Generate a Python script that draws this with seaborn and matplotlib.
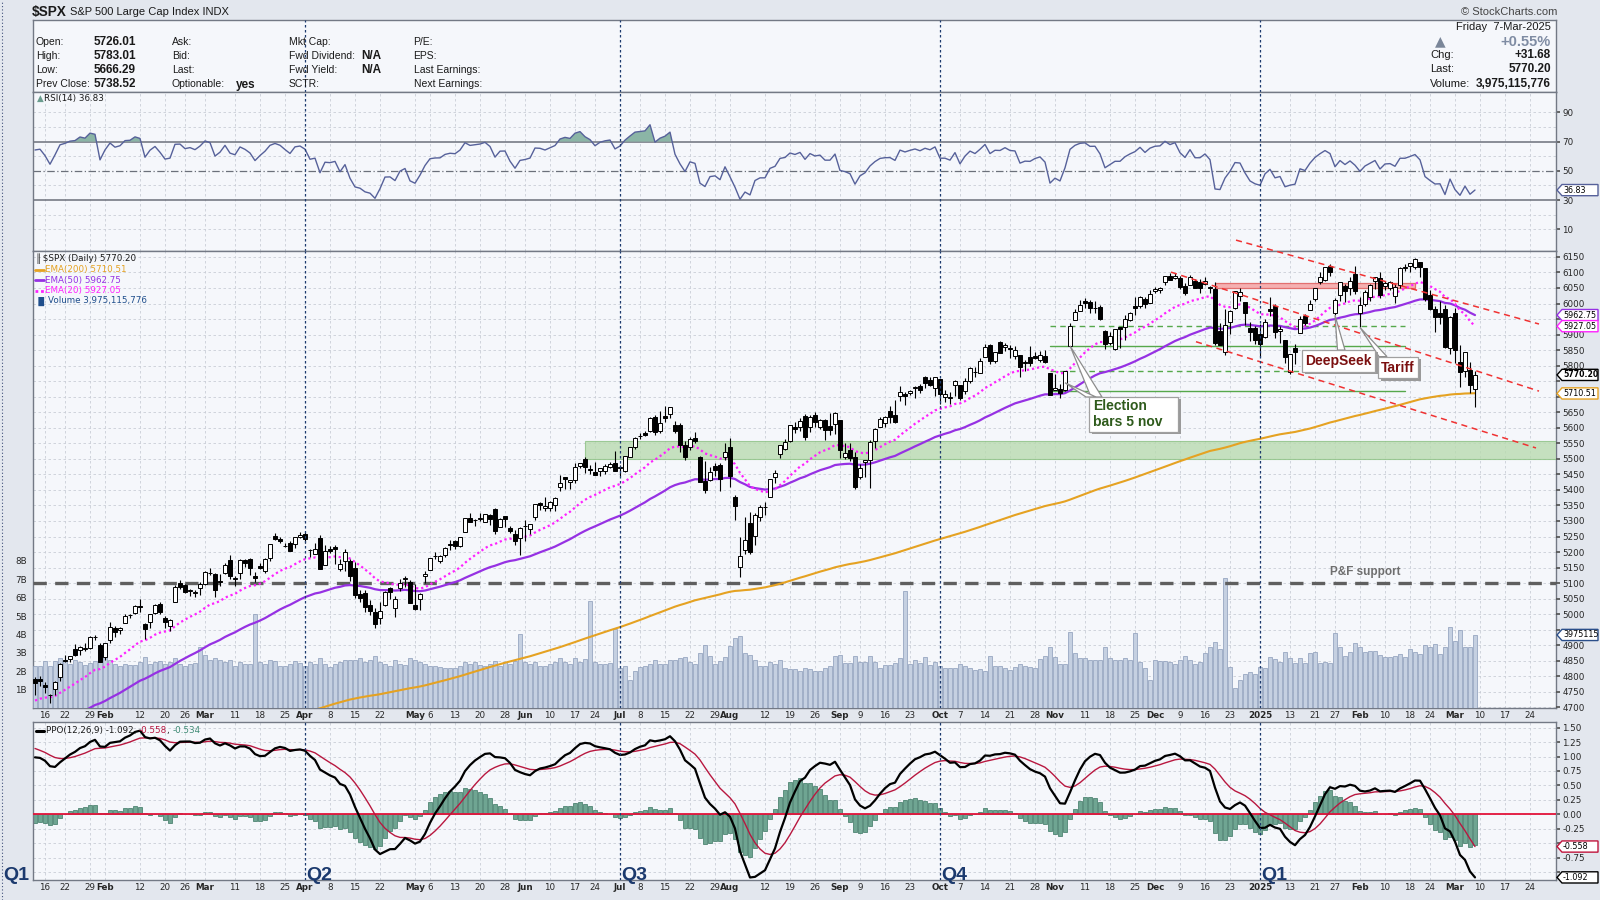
import numpy as np
import pandas as pd
import matplotlib
matplotlib.use("Agg")
import matplotlib.pyplot as plt
import seaborn as sns
from matplotlib.patches import Rectangle, Polygon
from matplotlib.lines import Line2D
from matplotlib.transforms import blended_transform_factory

# ---------------- data: $SPX daily, 11-Jan-2024 .. 7-Mar-2025 ----------------
# closes before the first visible bar (15-Nov-2023 .. 10-Jan-2024), used only to warm up the indicators
warmup_close = [4502, 4508, 4514, 4547, 4538, 4556, 4559, 4550, 4555, 4551, 4568,
                4595, 4569, 4567, 4549, 4586, 4604, 4622, 4644, 4707, 4720, 4719, 4740, 4768, 4698,
                4746, 4755, 4775, 4781, 4783, 4770,
                4743, 4705, 4689, 4697, 4764, 4757, 4783]

open_ = [
    4792, 4791, 4772, 4739, 4760, 4797, 4854, 4856, 4888, 4886, 4888, 4892, 4926, 4900,  # Jan 24
    4862, 4916, 4957, 4950, 4973, 4997, 5004, 5026, 4968, 4976, 5003, 5032, 4989, 4963, 5039, 5100, 5094, 5075, 5068, 5085,  # Feb
    5098, 5131, 5130, 5108, 5133, 5173, 5112, 5134, 5174, 5176, 5124, 5154, 5139, 5182, 5253, 5243, 5220, 5228, 5226, 5249,  # Mar
    5258, 5205, 5194, 5244, 5158, 5211, 5217, 5145, 5172, 5171, 5149, 5064, 5068, 5031, 5006, 4988, 5029, 5084, 5020, 5084, 5114, 5103,  # Apr
    5029, 5050, 5123, 5142, 5188, 5172, 5190, 5226, 5234, 5221, 5264, 5310, 5303, 5305, 5298, 5320, 5340, 5281, 5315, 5278, 5259, 5244,  # May
    5283, 5275, 5314, 5357, 5343, 5341, 5353, 5409, 5441, 5424, 5432, 5477, 5499, 5466, 5459, 5461, 5460, 5473, 5488,  # Jun
    5471, 5461, 5507, 5537, 5572, 5584, 5591, 5635, 5590, 5638, 5644, 5610, 5608, 5543, 5537, 5566, 5505, 5429, 5433, 5477, 5479, 5505,  # Jul
    5537, 5377, 5151, 5206, 5293, 5253, 5312, 5345, 5376, 5443, 5514, 5531, 5557, 5602, 5603, 5637, 5602, 5640, 5603, 5624, 5607, 5612,  # Aug
    5624, 5507, 5530, 5507, 5443, 5491, 5496, 5557, 5603, 5615, 5655, 5641, 5703, 5709, 5711, 5728, 5733, 5762, 5755, 5727,  # Sep
    5757, 5698, 5696, 5738, 5737, 5719, 5752, 5778, 5775, 5829, 5866, 5816, 5875, 5859, 5858, 5832, 5835, 5813, 5827, 5830, 5819, 5832, 5775,  # Oct
    5723, 5725, 5722, 5864, 5947, 5977, 6008, 6004, 5986, 5990, 5912, 5874, 5852, 5924, 5924, 5948, 5993, 5992, 6014, 6003,  # Nov
    6040, 6042, 6069, 6089, 6081, 6083, 6057, 6060, 6074, 6068, 6063, 6052, 6047, 5913, 5843, 5940, 5985, 6025, 6006, 5920, 5920,  # Dec
    5903, 5892, 5982, 5993, 5911, 5881, 5778, 5858, 5905, 5961, 5978, 6014, 6069, 6077, 6121, 5969, 6027, 6057, 6050, 6096,  # Jan 25
    5970, 5998, 6021, 6072, 6083, 6057, 6050, 6025, 6061, 6115, 6122, 6118, 6134, 6114, 6027, 5982, 5971, 5981, 5857,  # Feb
    5969, 5812, 5782, 5785, 5726.01,  # Mar
]
high = [
    4798, 4802, 4782, 4744, 4785, 4842, 4868, 4866, 4903, 4898, 4906, 4929, 4932, 4907,
    4906, 4975, 4963, 4958, 4999, 5000, 5031, 5049, 4971, 5002, 5032, 5039, 4993, 4983, 5094, 5111, 5097, 5081, 5078, 5104,
    5140, 5149, 5132, 5128, 5165, 5190, 5124, 5179, 5179, 5180, 5136, 5165, 5180, 5225, 5261, 5247, 5229, 5235, 5249, 5264,
    5264, 5209, 5228, 5256, 5222, 5219, 5224, 5178, 5211, 5176, 5168, 5079, 5077, 5046, 5020, 5038, 5076, 5089, 5057, 5114, 5124, 5110,
    5096, 5069, 5139, 5181, 5201, 5191, 5215, 5240, 5238, 5250, 5311, 5325, 5305, 5325, 5324, 5323, 5342, 5311, 5315, 5283, 5270, 5280,
    5302, 5291, 5354, 5362, 5376, 5365, 5376, 5447, 5442, 5432, 5488, 5486, 5506, 5479, 5490, 5472, 5483, 5490, 5524,
    5479, 5509, 5539, 5570, 5583, 5590, 5635, 5642, 5655, 5670, 5667, 5622, 5614, 5557, 5570, 5586, 5508, 5492, 5474, 5487, 5486, 5551,
    5566, 5383, 5250, 5312, 5330, 5327, 5351, 5361, 5436, 5463, 5545, 5564, 5608, 5620, 5633, 5644, 5642, 5651, 5628, 5627, 5646, 5651,
    5626, 5552, 5552, 5523, 5484, 5497, 5560, 5600, 5636, 5637, 5670, 5690, 5733, 5715, 5721, 5735, 5741, 5767, 5765, 5763,
    5757, 5720, 5715, 5753, 5739, 5759, 5796, 5796, 5823, 5871, 5870, 5844, 5878, 5872, 5866, 5863, 5835, 5817, 5862, 5843, 5848, 5851, 5775,
    5772, 5741, 5783, 5936, 5983, 6012, 6018, 6010, 6009, 5994, 5916, 5909, 5918, 5925, 5962, 5973, 6020, 6025, 6021, 6045,
    6053, 6052, 6088, 6099, 6099, 6088, 6065, 6092, 6080, 6078, 6085, 6057, 6070, 5936, 5982, 5978, 6040, 6049, 6006, 5940, 5929,
    5935, 5949, 6022, 6000, 5927, 5882, 5838, 5871, 5960, 5965, 6012, 6051, 6100, 6119, 6128, 6018, 6070, 6063, 6086, 6120,
    6022, 6042, 6062, 6084, 6101, 6073, 6074, 6063, 6116, 6128, 6129, 6147, 6134, 6115, 6044, 5992, 6009, 5994, 5959,
    5987, 5865, 5843, 5812, 5783.01,
]
low = [
    4739, 4768, 4747, 4714, 4740, 4785, 4845, 4845, 4866, 4870, 4881, 4887, 4917, 4845,
    4853, 4907, 4927, 4936, 4970, 4988, 4999, 5007, 4920, 4956, 5001, 4999, 4954, 4946, 5039, 5081, 5068, 5058, 5056, 5061,
    5094, 5127, 5056, 5091, 5130, 5114, 5091, 5114, 5151, 5125, 5104, 5145, 5131, 5172, 5240, 5229, 5216, 5203, 5214, 5246,
    5229, 5184, 5194, 5146, 5157, 5197, 5160, 5138, 5139, 5107, 5052, 5039, 5007, 4998, 4954, 4969, 5027, 5048, 4990, 5073, 5088, 5035,
    5014, 5012, 5101, 5142, 5178, 5166, 5183, 5206, 5211, 5217, 5263, 5297, 5284, 5299, 5298, 5286, 5257, 5279, 5280, 5262, 5222, 5191,
    5234, 5257, 5304, 5336, 5331, 5331, 5331, 5395, 5403, 5403, 5421, 5471, 5455, 5451, 5448, 5446, 5452, 5471, 5460,
    5446, 5458, 5507, 5531, 5563, 5574, 5587, 5576, 5583, 5619, 5632, 5584, 5522, 5497, 5528, 5550, 5426, 5390, 5430, 5445, 5398, 5497,
    5410, 5302, 5120, 5193, 5195, 5224, 5301, 5319, 5376, 5421, 5502, 5530, 5554, 5584, 5591, 5560, 5585, 5602, 5597, 5560, 5576, 5581,
    5504, 5501, 5493, 5402, 5434, 5441, 5407, 5536, 5601, 5602, 5614, 5615, 5687, 5674, 5704, 5697, 5712, 5729, 5733, 5703,
    5676, 5683, 5675, 5703, 5691, 5709, 5745, 5763, 5776, 5829, 5804, 5810, 5840, 5846, 5824, 5822, 5762, 5784, 5799, 5822, 5812, 5810, 5706,
    5723, 5697, 5717, 5864, 5948, 5976, 5985, 5970, 5970, 5946, 5853, 5865, 5850, 5858, 5884, 5944, 5964, 5986, 5984, 6003,
    6033, 6034, 6058, 6075, 6079, 6048, 6026, 6060, 6051, 6035, 6060, 6035, 5867, 5866, 5833, 5902, 5983, 6007, 5932, 5879, 5869,
    5829, 5889, 5960, 5890, 5874, 5809, 5774, 5805, 5905, 5931, 5978, 6007, 6063, 6074, 6088, 5962, 6009, 6006, 6027, 6031,
    5923, 5991, 6007, 6046, 6018, 6044, 6044, 6003, 6051, 6104, 6100, 6111, 6084, 6008, 5978, 5908, 5933, 5857, 5837,
    5810, 5732, 5763, 5711, 5666.29,
]
close = [
    4780, 4784, 4766, 4739, 4781, 4840, 4850, 4865, 4869, 4894, 4891, 4928, 4925, 4846,
    4906, 4959, 4943, 4954, 4995, 4998, 5027, 5022, 4953, 5001, 5030, 5006, 4976, 4982, 5087, 5089, 5070, 5078, 5070, 5096,
    5137, 5131, 5079, 5105, 5157, 5124, 5117, 5175, 5165, 5150, 5117, 5149, 5179, 5225, 5241, 5234, 5218, 5203, 5248, 5254,
    5243, 5205, 5211, 5147, 5204, 5202, 5209, 5161, 5199, 5123, 5061, 5051, 5022, 5011, 4967, 5010, 5071, 5072, 5048, 5100, 5116, 5036,
    5018, 5064, 5128, 5181, 5187, 5188, 5214, 5223, 5221, 5247, 5308, 5297, 5303, 5308, 5321, 5307, 5268, 5305, 5306, 5267, 5236, 5278,
    5283, 5291, 5354, 5353, 5347, 5361, 5375, 5421, 5434, 5431, 5473, 5487, 5473, 5465, 5448, 5469, 5478, 5483, 5460,
    5475, 5509, 5537, 5567, 5572, 5577, 5633, 5585, 5615, 5631, 5667, 5589, 5545, 5505, 5564, 5556, 5427, 5399, 5459, 5464, 5436, 5522,
    5446, 5347, 5186, 5240, 5199, 5319, 5344, 5344, 5434, 5455, 5543, 5554, 5608, 5597, 5621, 5571, 5634, 5617, 5626, 5592, 5592, 5648,
    5529, 5520, 5503, 5408, 5471, 5496, 5555, 5596, 5627, 5634, 5635, 5618, 5714, 5703, 5719, 5732, 5723, 5745, 5738, 5762,
    5709, 5709, 5700, 5751, 5696, 5751, 5792, 5780, 5815, 5859, 5815, 5843, 5842, 5865, 5853, 5851, 5797, 5809, 5808, 5824, 5833, 5813, 5705,
    5729, 5712, 5782, 5929, 5973, 5996, 6001, 5984, 5985, 5949, 5871, 5894, 5917, 5917, 5949, 5970, 5987, 6021, 5999, 6032,
    6047, 6050, 6087, 6075, 6090, 6053, 6034, 6085, 6051, 6051, 6074, 6051, 5872, 5867, 5931, 5975, 6040, 6037, 5971, 5907, 5882,
    5869, 5942, 5975, 5909, 5918, 5827, 5837, 5843, 5950, 5937, 5997, 6049, 6086, 6119, 6101, 6012, 6068, 6039, 6071, 6041,
    5995, 6038, 6061, 6084, 6026, 6066, 6069, 6052, 6115, 6115, 6129, 6144, 6117, 6013, 5983, 5955, 5956, 5861, 5955,
    5849, 5778, 5843, 5738.52, 5770.20,
]
# volume in billions of shares
volume_b = [
    2.30, 2.26, 2.58, 2.30, 2.58, 2.70, 2.58, 2.40, 2.62, 2.50, 2.35, 2.45, 2.55, 2.80,
    2.75, 2.60, 2.42, 2.30, 2.40, 2.32, 2.35, 2.50, 2.80, 2.42, 2.50, 2.55, 2.40, 2.50, 2.70, 2.42, 2.30, 2.38, 2.45, 3.30,
    2.90, 2.60, 2.70, 2.62, 2.50, 2.62, 2.30, 2.50, 2.40, 2.42, 5.10, 2.50, 2.40, 2.60, 2.55, 2.30, 2.30, 2.40, 2.55, 2.45,
    2.30, 2.50, 2.40, 2.70, 2.40, 2.25, 2.40, 2.50, 2.60, 2.60, 2.62, 2.70, 2.50, 2.60, 2.85, 2.50, 2.40, 2.30, 2.60, 2.40, 2.35, 2.70,
    2.60, 2.50, 2.40, 2.30, 2.30, 2.25, 2.20, 2.20, 2.20, 2.30, 2.50, 2.40, 2.50, 2.35, 2.30, 2.40, 2.55, 2.30, 2.50, 2.40, 2.55, 4.00,
    2.50, 2.40, 2.50, 2.30, 2.30, 2.40, 2.50, 2.70, 2.50, 2.40, 2.70, 2.50, 2.65, 5.80, 2.50, 2.40, 2.40, 2.45, 4.30,
    2.20, 2.30, 1.50, 2.00, 2.25, 2.30, 2.40, 2.60, 2.40, 2.40, 2.60, 2.60, 2.70, 2.80, 2.50, 2.40, 2.97, 3.45, 2.82, 2.40, 2.55, 2.75,
    3.40, 3.80, 3.90, 3.00, 2.90, 2.60, 2.30, 2.30, 2.50, 2.40, 2.60, 2.20, 2.10, 2.10, 2.00, 2.20, 2.10, 2.00, 2.00, 2.20, 2.30, 2.85,
    2.90, 2.45, 2.45, 2.85, 2.50, 2.50, 2.85, 2.50, 2.20, 2.35, 2.35, 2.45, 2.70, 6.35, 2.40, 2.60, 2.45, 2.75, 2.35, 2.50,
    2.30, 2.20, 2.20, 2.20, 2.38, 2.26, 2.17, 2.08, 2.11, 2.04, 2.84, 2.29, 2.31, 2.20, 2.08, 2.22, 2.38, 2.29, 2.22, 2.17, 2.66, 2.84, 3.31,
    2.77, 2.40, 2.40, 4.13, 3.00, 2.70, 2.70, 2.60, 2.60, 2.60, 3.30, 2.70, 2.60, 2.60, 2.70, 2.60, 4.10, 2.50, 2.20, 1.50,
    2.60, 2.55, 2.55, 2.50, 2.40, 2.60, 2.85, 2.60, 2.40, 2.50, 3.00, 3.30, 3.60, 3.20, 7.10, 2.25, 1.10, 1.50, 1.85, 1.95, 1.85,
    2.22, 2.17, 2.77, 2.66, 2.53, 3.04, 2.71, 2.44, 2.71, 2.44, 2.98, 3.04, 2.44, 2.49, 2.44, 4.08, 3.31, 2.84, 3.04, 3.53,
    3.31, 3.06, 3.11, 3.11, 2.88, 2.77, 2.80, 2.84, 2.93, 2.77, 3.21, 3.06, 2.95, 3.42, 3.31, 3.50, 2.93, 3.31, 4.41,
    3.62, 4.26, 3.31, 3.31, 3.975,
]

holidays = ['2024-01-15', '2024-02-19', '2024-03-29', '2024-05-27', '2024-06-19', '2024-07-04',
            '2024-09-02', '2024-11-28', '2024-12-25', '2025-01-01', '2025-01-09', '2025-01-20',
            '2025-02-17']
first_day, axis_end_day = '2024-01-11', '2025-04-04'

# indicator state on 14-Nov-2023 (day before the warm-up closes)
ema_seed = {20: 4380, 50: 4340, 200: 4295, 12: 4410, 26: 4350}
ppo_signal_seed = 0.4

# annotation levels drawn on the chart
pf_support = 5100
support_zone = (5500, 5558, '2024-06-20')
resistance_zone = (6050, 6066, '2024-12-18', '2025-02-19')
election_levels = [(5929, 'dashed'), (5864, 'solid'), (5783, 'dashed'), (5717, 'solid')]
election_span = ('2024-10-31', '2025-02-14')
trend_lines = [((240.2, 6204), (300.8, 5934)),
               ((227.2, 6101), (300.8, 5718)),
               ((232.2, 5877), (300.2, 5535))]
# last values shown in the tags / legends
last_tags = {'ema50': 5962.75, 'ema20': 5927.05, 'close': 5770.20, 'ema200': 5710.51,
             'volume': 3.975, 'rsi': 36.83, 'ppo': -1.092, 'signal': -0.558}

# ---------------- derived series ----------------
n = len(close)
if not (len(open_) == len(high) == len(low) == len(volume_b) == n):
    raise ValueError(f"length mismatch {len(open_)} {len(high)} {len(low)} {n} {len(volume_b)}")

days = pd.bdate_range(first_day, axis_end_day)
days = days[~days.isin(pd.to_datetime(holidays))]
pos = {d: i for i, d in enumerate(days)}
idx = np.arange(n)
nw = len(warmup_close)
all_close = pd.Series(warmup_close + close, dtype=float)


def ema(span):
    s = pd.concat([pd.Series([float(ema_seed[span])]), all_close], ignore_index=True)
    return s.ewm(span=span, adjust=False).mean().iloc[1:].to_numpy()


ema20, ema50, ema200 = ema(20)[nw:], ema(50)[nw:], ema(200)[nw:]
e12, e26 = ema(12), ema(26)
ppo_all = (e12 - e26) / e26 * 100
sig_all = pd.concat([pd.Series([ppo_signal_seed]), pd.Series(ppo_all)], ignore_index=True) \
    .ewm(span=9, adjust=False).mean().iloc[1:].to_numpy()
ppo, ppo_sig = ppo_all[nw:], sig_all[nw:]
ppo_hist = ppo - ppo_sig

delta = all_close.diff().fillna(0)
avg_gain = delta.clip(lower=0).ewm(alpha=1 / 14, adjust=False).mean()
avg_loss = (-delta.clip(upper=0)).ewm(alpha=1 / 14, adjust=False).mean()
rsi = (100 - 100 / (1 + avg_gain / avg_loss)).to_numpy()[nw:]

# date labels: month starts, plus week starts not crowding a month label
month_pos = [i for i in range(1, len(days)) if days[i].month != days[i - 1].month]
marks = {}
for i in month_pos:
    d = days[i]
    marks[i] = (str(d.year) if d.month == 1 else d.strftime('%b'), True)
for i in range(1, len(days)):
    new_week = days[i].isocalendar()[1] != days[i - 1].isocalendar()[1]
    if new_week and i not in marks and all(abs(i - m) > 2 for m in month_pos):
        marks[i] = (str(days[i].day), False)
tick_pos = sorted(k for k in marks if k <= 301)
tick_lab = [marks[k][0] for k in tick_pos]
tick_bold = [marks[k][1] for k in tick_pos]
quarters = [pos[pd.Timestamp(d)] for d in ['2024-04-01', '2024-07-01', '2024-10-01', '2025-01-02']]

# ---------------- figure ----------------
W, H = 1600, 900
BG, PANEL, EDGE, GRID = '#e3e7ee', '#f5f7fb', '#737985', '#c9ced7'
C200, C50, C20 = '#e5a222', '#9631e3', '#ff22ff'
QCOL = '#1c3a6e'
XL = (-0.4, 304.2)

sns.set_theme(style='white')
plt.rcParams['font.family'] = ['DejaVu Sans']
fig = plt.figure(figsize=(16, 9), dpi=100)
fig.patch.set_facecolor(BG)


def fx(x):
    return x / W


def fy(y):
    return 1 - y / H


def rect(top, bottom, left=33, right=1556):
    return [left / W, 1 - bottom / H, (right - left) / W, (bottom - top) / H]


def frame(ax):
    ax.set_facecolor(PANEL)
    for s in ax.spines.values():
        s.set_color(EDGE)
        s.set_linewidth(1.0)
    ax.set_xlim(*XL)


ax_hdr = fig.add_axes(rect(20, 92))
ax_rsi = fig.add_axes(rect(92, 251))
ax_bg = fig.add_axes(rect(251, 708))
ax_vol = fig.add_axes(rect(251, 708))
ax_px = fig.add_axes(rect(251, 708))
ax_ppo = fig.add_axes(rect(722, 880))
ax_bg.set_zorder(0)
ax_vol.set_zorder(1)
ax_px.set_zorder(2)

for ax in (ax_hdr, ax_rsi, ax_bg, ax_ppo):
    frame(ax)
for ax in (ax_vol, ax_px):
    ax.patch.set_visible(False)
    for s in ax.spines.values():
        s.set_visible(False)
    ax.set_xlim(*XL)

ax_hdr.set_xticks([])
ax_hdr.set_yticks([])

gridkw = dict(color=GRID, linestyle=(0, (3, 3)), linewidth=0.6)
TICKFS = 6.3

# ---- RSI panel ----
ax_rsi.set_ylim(-4.8, 103.9)
ax_rsi.set_xticks(tick_pos)
ax_rsi.tick_params(axis='x', length=0, labelbottom=False)
ax_rsi.grid(axis='x', **gridkw)
for lv in (10, 20, 40, 60, 80, 90):
    ax_rsi.axhline(lv, zorder=1, **gridkw)
ax_rsi.axhline(70, color='#6b707a', lw=1.1, zorder=2)
ax_rsi.axhline(30, color='#6b707a', lw=1.1, zorder=2)
ax_rsi.axhline(50, color='#6b707a', lw=0.9, ls=(0, (6, 2, 1, 2)), zorder=2)
ax_rsi.fill_between(idx, rsi, 70, where=rsi > 70, interpolate=True, color='#8bb5a6', lw=0, zorder=3)
ax_rsi.fill_between(idx, rsi, 30, where=rsi < 30, interpolate=True, color='#8bb5a6', lw=0, zorder=3)
sns.lineplot(x=idx, y=rsi, ax=ax_rsi, color='#56619a', linewidth=1.0, zorder=4, legend=False)
ax_rsi.yaxis.tick_right()
ax_rsi.set_yticks([10, 30, 50, 70, 90])
ax_rsi.set_yticklabels(['10', '30', '50', '70', '90'], fontsize=TICKFS)
ax_rsi.tick_params(axis='y', length=3, pad=1.5, color='#555')
ax_rsi.set_ylabel('')

# ---- main panel ----
PY = (4698, 6169)
price_ticks = np.arange(4700, 6151, 50)
covered = {4950, 5700, 5750, 5950}          # right-axis labels hidden under the value tags
ax_bg.set_ylim(*PY)
ax_bg.set_xticks(tick_pos)
ax_bg.set_yticks(price_ticks)
ax_bg.tick_params(length=0, labelbottom=False, labelleft=False)
ax_bg.grid(True, **gridkw)

ax_vol.set_ylim(0, 24.87)
ax_vol.bar(idx, volume_b, width=0.72, color='#c5d0e1', edgecolor='#8a9ab8', linewidth=0.5)
ax_vol.set_xticks([])
ax_vol.set_yticks(range(1, 9))
ax_vol.set_yticklabels([f'{v}B' for v in range(1, 9)], fontsize=TICKFS)
ax_vol.tick_params(axis='y', length=3, pad=1.5, color='#555')

ax_px.set_ylim(*PY)
o, c = np.array(open_, float), np.array(close, float)
up = c >= o
body = np.maximum(np.abs(c - o), 1.5)

# support / resistance zones and levels
s_lo, s_hi, s_start = support_zone
s0 = pos[pd.Timestamp(s_start)]
ax_px.add_patch(Rectangle((s0, s_lo), XL[1] - s0, s_hi - s_lo,
                          facecolor='#b9dbb0', edgecolor='#8cc183', lw=0.8, alpha=0.8, zorder=1))
r_lo, r_hi, r_a, r_b = resistance_zone
r0, r1 = pos[pd.Timestamp(r_a)], pos[pd.Timestamp(r_b)]
ax_px.add_patch(Rectangle((r0, r_lo), r1 - r0, r_hi - r_lo,
                          facecolor='#f6a9a9', edgecolor='#e06565', lw=0.9, alpha=0.9, zorder=2))
ax_px.axhline(pf_support, color='#5f5f5f', lw=2.4, ls=(0, (4, 2.5)), zorder=3)
ax_px.text(266, pf_support + 35, 'P&F support', ha='center', va='center', fontsize=8.5, fontweight='bold',
           color='#6f6f6f', family=['Liberation Sans', 'DejaVu Sans'], zorder=3)
e_a, e_b = pos[pd.Timestamp(election_span[0])], pos[pd.Timestamp(election_span[1])]
for lv, kind in election_levels:
    ax_px.plot([e_a, e_b], [lv, lv], color='#56a84b', lw=1.0,
               ls=(0, (4, 3)) if kind == 'dashed' else '-', zorder=3)

sns.lineplot(x=idx, y=ema200, ax=ax_px, color=C200, linewidth=1.5, zorder=4, legend=False)
sns.lineplot(x=idx, y=ema50, ax=ax_px, color=C50, linewidth=1.6, zorder=4, legend=False)
sns.lineplot(x=idx, y=ema20, ax=ax_px, color=C20, linewidth=1.6, linestyle=(0, (1, 1.3)), zorder=4, legend=False)

ax_px.vlines(idx, low, high, color='black', lw=0.8, zorder=5)
ax_px.bar(idx[up], body[up], bottom=o[up], width=0.7, color='white', edgecolor='black', lw=0.7, zorder=6)
ax_px.bar(idx[~up], body[~up], bottom=c[~up], width=0.7, color='black', edgecolor='black', lw=0.7, zorder=6)

for (x0, y0), (x1, y1) in trend_lines:
    ax_px.plot([x0, x1], [y0, y1], color='#f03232', lw=1.1, ls=(0, (4, 3)), zorder=7, clip_on=False)

ax_px.set_xticks(tick_pos)
ax_px.set_xticklabels(tick_lab, fontsize=TICKFS)
for lbl, b in zip(ax_px.get_xticklabels(), tick_bold):
    if b:
        lbl.set_fontweight('bold')
ax_px.tick_params(axis='x', length=0, pad=2.5)
ax_px.yaxis.tick_right()
ax_px.set_yticks(price_ticks)
ax_px.set_yticklabels(['' if v in covered else str(v) for v in price_ticks], fontsize=TICKFS)
ax_px.tick_params(axis='y', length=3, pad=1.5, color='#555')
ax_px.set_ylabel('')


# callout boxes
def callout(ax, box, text, color, apexes, size, ha='center'):
    (x0, y0, x1, y1) = box
    for (ax_x, ax_y), (b0, b1) in apexes:
        ax.add_patch(Polygon([(ax_x, ax_y), (b0, y1), (b1, y1)], closed=True, facecolor='white',
                             edgecolor='#8c8c8c', lw=0.9, zorder=8))
    ax.add_patch(Rectangle((x0 + 0.5, y0 - 7), x1 - x0, y1 - y0, facecolor='#9a9a9a', edgecolor='none', zorder=8.5))
    ax.add_patch(Rectangle((x0, y0), x1 - x0, y1 - y0, facecolor='white', edgecolor='#a0a0a0', lw=0.9, zorder=9))
    tx = (x0 + x1) / 2 if ha == 'center' else x0 + 0.8
    ax.text(tx, (y0 + y1) / 2, text, ha=ha, va='center', fontsize=size, fontweight='bold',
            color=color, family=['Liberation Sans', 'DejaVu Sans'], linespacing=1.2, zorder=10)


callout(ax_px, (210.8, 5588, 228.6, 5699), 'Election\nbars 5 nov', '#2f5b1c',
        [((207, 5864), (211.2, 213.4)), ((206, 5745), (210.2, 212.2))], 10, ha='left')
callout(ax_px, (253.4, 5780, 268.0, 5850), 'DeepSeek', '#7b1010',
        [((260, 5962), (260.5, 262.0))], 10)
callout(ax_px, (268.6, 5759, 276.6, 5829), 'Tariff', '#7b1010',
        [((265, 5923), (268.8, 270.4))], 10)


# right-hand value tags, drawn on top of the axis labels
def tag(ax, y, text, ec, weight='normal', size=5.8):
    yt = H - ax.transData.transform((0, y))[1]
    h = 5.6
    pts = [(1557, yt), (1562, yt - h), (1598, yt - h), (1598, yt + h), (1562, yt + h)]
    fig.add_artist(Polygon([(fx(a), fy(b)) for a, b in pts], closed=True, transform=fig.transFigure,
                           facecolor='white', edgecolor=ec, lw=1.0, zorder=50))
    t = fig.text(fx(1563), fy(yt), text, fontsize=size, fontweight=weight, color='black',
                 ha='left', va='center')
    t.set_zorder(51)


tag(ax_px, last_tags['ema50'], f"{last_tags['ema50']:.2f}", C50)
tag(ax_px, last_tags['ema20'], f"{last_tags['ema20']:.2f}", C20)
tag(ax_px, last_tags['close'], f"{last_tags['close']:.2f}", 'black', 'bold', 5.6)
tag(ax_px, last_tags['ema200'], f"{last_tags['ema200']:.2f}", C200)
tag(ax_vol, last_tags['volume'], '3975115', '#2b4f8a')

# ---- PPO panel ----
ax_ppo.set_ylim(-1.137, 1.597)
ppo_ticks = np.arange(-1.0, 1.51, 0.25)
ax_ppo.set_xticks(tick_pos)
ax_ppo.set_yticks(ppo_ticks)
ax_ppo.grid(True, **gridkw)
ax_ppo.bar(idx, ppo_hist, width=0.62, color='#6fa592', edgecolor='#3b7662', linewidth=0.5, zorder=2)
ax_ppo.axhline(0, color='#e3123a', lw=1.3, zorder=3)
sns.lineplot(x=idx, y=ppo_sig, ax=ax_ppo, color='#b8173f', linewidth=1.0, zorder=4, legend=False)
sns.lineplot(x=idx, y=ppo, ax=ax_ppo, color='black', linewidth=1.6, zorder=5, legend=False)
ax_ppo.set_xticklabels(tick_lab, fontsize=TICKFS)
for lbl, b in zip(ax_ppo.get_xticklabels(), tick_bold):
    if b:
        lbl.set_fontweight('bold')
ax_ppo.tick_params(axis='x', length=0, pad=2.5)
ax_ppo.yaxis.tick_right()
ax_ppo.set_yticklabels(['' if round(v, 2) in (-0.5, -1.0) else f'{v:.2f}' for v in ppo_ticks], fontsize=TICKFS)
ax_ppo.tick_params(axis='y', length=3, pad=1.5, color='#555')
ax_ppo.set_ylabel('')
tag(ax_ppo, last_tags['signal'], f"{last_tags['signal']:.3f}", '#c0143c')
tag(ax_ppo, last_tags['ppo'], f"{last_tags['ppo']:.3f}", 'black')
tag(ax_rsi, last_tags['rsi'], f"{last_tags['rsi']:.2f}", '#56619a')

# quarter separators
for ax in (ax_hdr, ax_rsi, ax_px, ax_ppo):
    for q in quarters:
        ax.axvline(q, color=QCOL, lw=0.9, ls=(0, (2, 2)), zorder=8)
qtr = blended_transform_factory(ax_ppo.transData, fig.transFigure)
for q, lab in zip([XL[0] - 6.2] + quarters, ['Q1', 'Q2', 'Q3', 'Q4', 'Q1']):
    fig.text(q + 0.3, fy(876), lab, transform=qtr, fontsize=14, fontweight='bold', color=QCOL,
             family=['Liberation Sans', 'DejaVu Sans'], ha='left', va='center', zorder=30)
fig.add_artist(Line2D([fx(2), fx(2)], [0, 1], color='#40507a', lw=0.8, ls=(0, (1, 2))))

# ---- header text ----
HF = ['Liberation Sans', 'DejaVu Sans']


def htext(x, y, s, size=7.5, weight='normal', color='#1a1a1a', ha='left', fam=HF):
    return fig.text(fx(x), fy(y), s, fontsize=size, fontweight=weight, color=color, ha=ha, va='center', family=fam)


htext(32, 12, '$SPX', size=9.8, weight='bold')
htext(70, 12, 'S&P 500 Large Cap Index INDX', size=8)
htext(1557, 12, '\u00a9 StockCharts.com', size=8, color='#444', ha='right')
rows_y = [42, 56, 70, 84]
for y, lab, val in zip(rows_y, ['Open:', 'High:', 'Low:', 'Prev Close:'],
                       ['5726.01', '5783.01', '5666.29', '5738.52']):
    htext(36, y, lab)
    htext(93.5, y, val, size=8.5, weight='bold')
for y, lab in zip(rows_y, ['Ask:', 'Bid:', 'Last:', 'Optionable:']):
    htext(172, y, lab)
htext(236, 85, 'yes', size=8.5, weight='bold')
for y, lab in zip(rows_y, ['Mkt Cap:', 'Fwd Dividend:', 'Fwd Yield:', 'SCTR:']):
    htext(289, y, lab)
htext(361, 56, 'N/A', size=8.5, weight='bold')
htext(361, 70, 'N/A', size=8.5, weight='bold')
for y, lab in zip(rows_y, ['P/E:', 'EPS:', 'Last Earnings:', 'Next Earnings:']):
    htext(413.5, y, lab)
htext(1551, 27, 'Friday  7-Mar-2025', size=8, ha='right')
htext(1440, 41.5, '\u25b2', size=10, color='#7a8699', ha='center', fam=['DejaVu Sans'])
htext(1551, 41.5, '+0.55%', size=10.5, weight='bold', color='#7f8ca3', ha='right')
for y, lab, val in ((55, 'Chg:', '+31.68'), (69.5, 'Last:', '5770.20'), (84, 'Volume:', '3,975,115,776')):
    htext(1430, y, lab, size=8)
    htext(1551, y, val, size=8.5, weight='bold', ha='right')

# ---- panel legends ----
renderer = fig.canvas.get_renderer()


def chain(x, y, parts, size=6.3):
    for s, col in parts:
        t = fig.text(fx(x), fy(y), s, fontsize=size, color=col, ha='left', va='center')
        x += t.get_window_extent(renderer=renderer).width


def swatch(x0, x1, y, color, ls='-', lw=2.0):
    fig.add_artist(Line2D([fx(x0), fx(x1)], [fy(y), fy(y)], color=color, lw=lw, ls=ls))


chain(37, 98.5, [('\u25b2', '#6a9c8e'), ('RSI(14) 36.83', '#1a1a1a')])
chain(35, 258.5, [('\u2551', '#222'), (' $SPX (Daily) 5770.20', '#1a1a1a')])
swatch(35, 44, 269.5, C200)
chain(45, 269.5, [('EMA(200) 5710.51', C200)])
swatch(35, 44, 280, C50)
chain(45, 280, [('EMA(50) 5962.75', C50)])
swatch(35, 44, 290.5, C20, ls=(0, (1, 1)))
chain(45, 290.5, [('EMA(20) 5927.05', C20)])
chain(35, 301, [('\u2590\u258c', '#1f4e8c'), ('Volume 3,975,115,776', '#1f4e8c')])
swatch(36, 44, 730.5, 'black', lw=2.2)
chain(46, 730.5, [('PPO(12,26,9) -1.092', '#1a1a1a'), (', ', '#1a1a1a'), ('-0.558', '#b8173f'),
                  (', ', '#1a1a1a'), ('-0.534', '#3e8a74')])

fig.savefig('out.png', dpi=100, facecolor=fig.get_facecolor())
